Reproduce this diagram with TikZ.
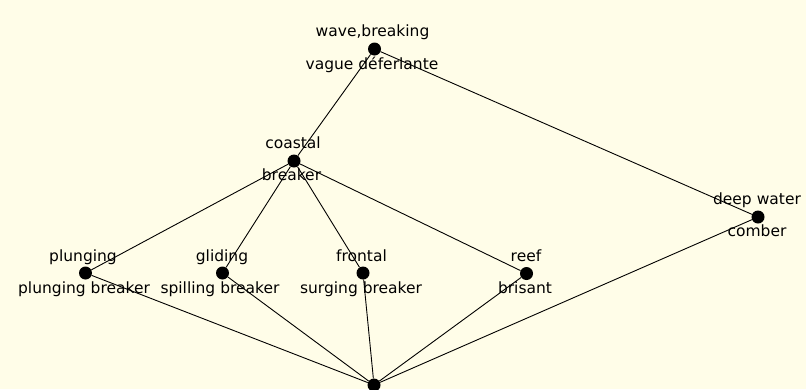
\documentclass[tikz,border=0pt]{standalone}
\usepackage{fontspec}
\setmainfont{DejaVu Sans}
\definecolor{bgcream}{HTML}{FFFDE8}
\begin{document}
\begin{tikzpicture}[x=1pt,y=-1pt,
  dot/.style={circle,fill=black,inner sep=0pt,minimum size=13pt},
  lbl/.style={anchor=base,inner sep=0pt,font=\fontsize{15.5}{18}\selectfont},
  edge/.style={draw=black,line width=0.9pt}]
\fill[bgcream] (0,0) rectangle (806,389);
\useasboundingbox (0,0) rectangle (806,389);
% concept nodes
\node[dot] (top)     at (374.5,49) {};
\node[dot] (coastal) at (294,161) {};
\node[dot] (deep)    at (758,217) {};
\node[dot] (plung)   at (85.5,273) {};
\node[dot] (glid)    at (222.5,273) {};
\node[dot] (front)   at (363,273) {};
\node[dot] (reef)    at (526.5,273.5) {};
\node[dot] (bottom)  at (374,385) {};
% connectors
\draw[edge] (top) -- (coastal);
\draw[edge] (top) -- (deep);
\draw[edge] (coastal) -- (plung);
\draw[edge] (coastal) -- (glid);
\draw[edge] (coastal) -- (front);
\draw[edge] (coastal) -- (reef);
\draw[edge] (plung) -- (bottom);
\draw[edge] (glid) -- (bottom);
\draw[edge] (front) -- (bottom);
\draw[edge] (reef) -- (bottom);
\draw[edge] (deep) -- (bottom);
% labels
\node[lbl] (topA) at (372.5,36) {wave,breaking};
\node[lbl] (topB) at (372,69) {vague déferlante};
\node[lbl] (coA) at (293,148) {coastal};
\node[lbl] (coB) at (291.5,180) {breaker};
\node[lbl] (dwA) at (757,204) {deep water};
\node[lbl] (dwB) at (757,236) {comber};
\node[lbl] (plA) at (83,261) {plunging};
\node[lbl] (plB) at (84,293) {plunging breaker};
\node[lbl] (glA) at (222,261) {gliding};
\node[lbl] (glB) at (220,293) {spilling breaker};
\node[lbl] (frA) at (361.5,261) {frontal};
\node[lbl] (frB) at (361,293) {surging breaker};
\node[lbl] (reA) at (526,261) {reef};
\node[lbl] (reB) at (525,293) {brisant};
\end{tikzpicture}
\end{document}
